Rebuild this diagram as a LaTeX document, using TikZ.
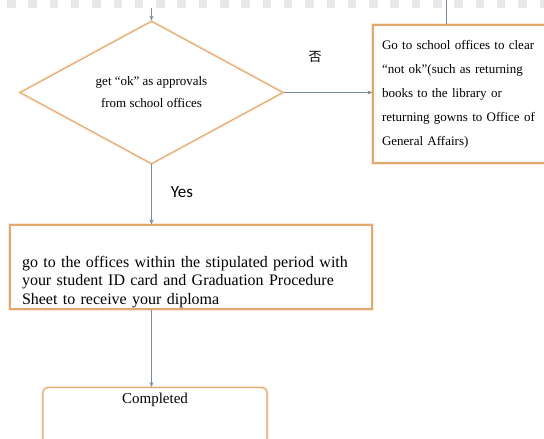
\documentclass[tikz,border=0pt]{standalone}
\usepackage{fontspec}
\setmainfont{Liberation Serif}
\newfontfamily\yesfont{Carlito}
\newfontfamily\cjkfont{Noto Sans CJK SC}
\usetikzlibrary{shapes.geometric,arrows.meta}
\definecolor{boxline}{RGB}{226,168,108}
\definecolor{flowline}{RGB}{122,140,160}
\tikzset{
  /tikz/.cd,
  framed/.style={draw=boxline,line width=1.1pt,preaction={draw=boxline!25,line width=3.5pt},fill=white},
  flow/.style={draw=flowline,line width=0.8pt},
  flowarrow/.style={flow,-{Stealth[length=5pt,width=4pt]}}
}

\begin{document}
\begin{tikzpicture}[x=1pt,y=-1pt,
    decision/.style={framed,diamond,inner sep=0pt,minimum width=263pt,minimum height=131pt,align=center,
                     font=\fontsize{13}{22}\selectfont},
    notebox/.style={framed,rectangle,minimum height=138pt,text width=157pt,inner xsep=9pt,align=left,
                    font=\fontsize{13}{24}\selectfont},
    procbox/.style={framed,rectangle,text width=338pt,inner xsep=12pt,inner ysep=0pt,
                    text height=42pt,text depth=42pt,align=left,font=\fontsize{16}{18.5}\selectfont},
    endbox/.style={framed,rectangle,rounded corners=5pt,minimum width=224pt,inner ysep=4pt,
                   text height=12pt,text depth=40pt,font=\fontsize{15}{15}\selectfont}]
  \clip (0,0) rectangle (544,439);
  \draw[gray!18,line width=8pt,dash pattern=on 8.5pt off 12.8pt,dash phase=-7pt] (0,4) -- (544,4);

  \node[decision] (check) at (151.5,92.5) {get ``ok'' as approvals\\from school offices};
  \node[notebox] (clearbox) at (460.5,94) {Go to school offices to clear\\``not ok''(such as returning\\books to the library or\\returning gowns to Office of\\General Affairs)};
  \node[procbox] (collect) at (191,267) {go to the offices within the stipulated period with\\your student ID card and Graduation Procedure\\Sheet to receive your diploma};
  \node[endbox,anchor=north] (done) at (155,387) {Completed};

  \node[font=\cjkfont\fontsize{13}{13}\selectfont] (nolbl) at (315,57) {否};
  \node[font=\yesfont\fontsize{17}{17}\selectfont] (yeslbl) at (182,192) {Yes};

  \coordinate (intop) at (151.5,8);
  \coordinate (outtop) at (446,0);
  \draw[flowarrow] (intop) -- (check.north);
  \draw[flow] (outtop) -- (outtop |- clearbox.north);
  \draw[flowarrow] (check.east) -- (check.east -| clearbox.west);
  \draw[flowarrow] (check.south) -- (check.south |- collect.north);
  \draw[flowarrow] (check.south |- collect.south) -- (check.south |- done.north);
\end{tikzpicture}
\end{document}
